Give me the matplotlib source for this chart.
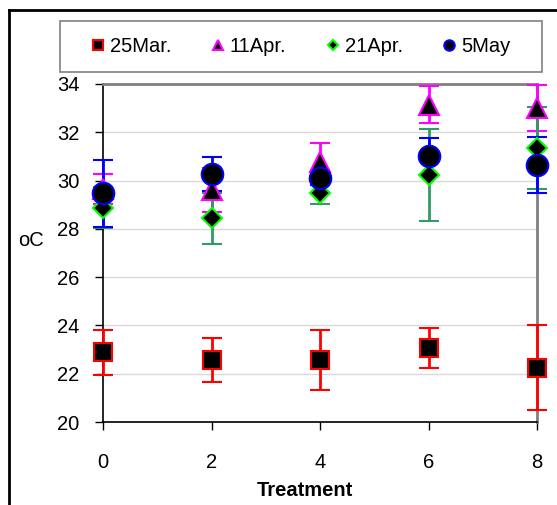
import numpy as np
import matplotlib
matplotlib.use('Agg')
import matplotlib.pyplot as plt
from matplotlib.lines import Line2D

plt.rcParams['font.family'] = ['Liberation Sans', 'DejaVu Sans']

treatment = [0, 2, 4, 6, 8]
mar25 = [22.88, 22.57, 22.57, 23.08, 22.25]
mar25_err = [0.93, 0.93, 1.25, 0.83, 1.77]
apr11 = [29.65, 29.6, 30.75, 33.15, 33.0]
apr11_err = [0.62, 0.9, 0.8, 0.78, 0.95]
apr21 = [28.88, 28.44, 29.47, 30.23, 31.35]
apr21_err = [0.85, 1.05, 0.45, 1.9, 1.7]
may5 = [29.47, 30.27, 30.12, 31.0, 30.65]
may5_err = [1.4, 0.7, 0.3, 0.75, 1.15]

series = [
    ('25Mar.', mar25, mar25_err, 's', 13, 'red', 'red', 7),
    ('11Apr.', apr11, apr11_err, '^', 14, '#FF00FF', '#FF00FF', 7.5),
    ('21Apr.', apr21, apr21_err, 'D', 10, '#00FF00', '#339966', 5.5),
    ('5May', may5, may5_err, 'o', 15.5, 'blue', 'blue', 7.5),
]

fig = plt.figure(figsize=(5.57, 5.05), dpi=100)
ax = fig.add_axes([103/557, 1-422/505, 434/557, 338/505])

handles = []
for name, vals, err, mk, ms, ec, errc, lms in series:
    ax.errorbar(treatment, vals, yerr=err, fmt=mk, ms=ms, mfc='black', mec=ec,
                mew=1.5, ecolor=errc, elinewidth=2, capsize=7, capthick=2,
                clip_on=False, zorder=3)
    handles.append(Line2D([], [], ls='none', marker=mk, ms=lms,
                          mfc='black', mec=ec, mew=1.5, label=name))

ax.set_xlim(0, 8)
ax.set_ylim(20, 34)
ax.set_xticks([0, 2, 4, 6, 8])
ax.set_yticks(np.arange(20, 35, 2))
ax.yaxis.grid(True, color='#d9d9d9', lw=1)
ax.set_axisbelow(True)
ax.tick_params(axis='both', labelsize=14.5, length=6, width=1, direction='out')
ax.tick_params(axis='y', pad=11)
ax.tick_params(axis='x', pad=16)
for s in ['top', 'right']:
    ax.spines[s].set_color('#808080')
    ax.spines[s].set_linewidth(2)
for s in ['left', 'bottom']:
    ax.spines[s].set_color('black')
    ax.spines[s].set_linewidth(1.2)

fig.text(305/557, 1-491/505, 'Treatment', fontsize=14.5, fontweight='bold',
         ha='center', va='center')
fig.text(31/557, 1-241/505, 'oC', fontsize=14.5, ha='center', va='center')

# legend box
fig.patches.append(plt.Rectangle((60/557, 1-72/505), 482/557, 51/505,
                                 transform=fig.transFigure, fill=False,
                                 ec='#808080', lw=1.2))
fig.legend(handles=handles, loc='center', bbox_to_anchor=(301/557, 1-47/505),
           ncol=4, frameon=False, fontsize=14.5, handlelength=0.6,
           handletextpad=0.3, columnspacing=2.0)

# outer chart border
fig.add_artist(Line2D([8.5/557, 8.5/557], [0, 1-10/505], color='black', lw=2,
                      transform=fig.transFigure))
fig.add_artist(Line2D([8.5/557, 1], [1-10/505, 1-10/505], color='black', lw=2,
                      transform=fig.transFigure))

fig.savefig('out.png', dpi=100)
